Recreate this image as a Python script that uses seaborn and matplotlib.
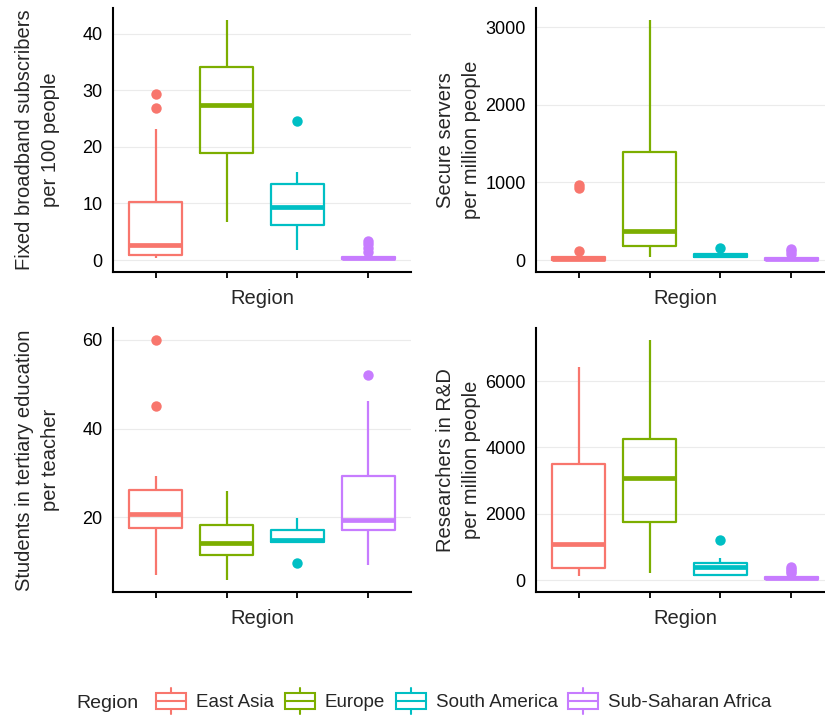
# Four-panel boxplot of ICT / education indicators by region
#
# - hollow boxes coloured by region, thick median, filled outlier dots
# - shared legend along the bottom

import numpy as np
import pandas as pd
import matplotlib
matplotlib.use("Agg")
import matplotlib.pyplot as plt
import seaborn as sns
from matplotlib.legend_handler import HandlerBase
from matplotlib.patches import Rectangle
from matplotlib.lines import Line2D

# ---------- Data (country values) ----------

regions = ["East Asia", "Europe", "South America", "Sub-Saharan Africa"]
region_colors = ["#F8766D", "#7CAE00", "#00BFC4", "#C77CFF"]

# Fixed broadband subscribers per 100 people
broadband_east_asia = [0.3, 0.5, 0.7, 0.9, 1.5, 2.0, 2.7, 4.0, 7.0, 10.2, 23.2, 26.8, 29.4]
broadband_europe = [6.7, 18.9, 27.4, 34.1, 42.4]
broadband_south_america = [1.8, 4.0, 6.2, 8.0, 9.3, 11.0, 13.4, 15.5, 24.6]
broadband_africa = [0.0, 0.05, 0.08, 0.1, 0.12, 0.15, 0.2, 0.22, 0.25, 0.28, 0.3,
                    0.35, 0.4, 0.45, 0.5, 0.55, 0.9, 1.5, 2.2, 2.8, 3.4]

# Secure servers per million people
servers_east_asia = [0, 1, 2, 3, 5, 8, 10, 12, 15, 20, 25, 30, 35, 60, 110, 930, 970]
servers_europe = [43, 181, 374, 1386, 3091]
servers_south_america = [20, 35, 45, 52, 60, 70, 80, 100, 150]
servers_africa = [0, 0.5, 1, 1.5, 2, 4, 6, 7, 8, 12, 16, 20, 25, 45, 80, 120, 140]

# Students in tertiary education per teacher
students_east_asia = [7.1, 12.0, 15.0, 17.7, 19.0, 20.0, 20.8, 23.0, 25.0, 26.1, 29.3, 45.2, 60.0]
students_europe = [5.9, 11.6, 14.3, 18.3, 25.9]
students_south_america = [9.8, 14.4, 14.4, 14.7, 15.0, 16.0, 17.2, 18.5, 19.8]
students_africa = [9.2, 14.0, 17.1, 18.5, 19.5, 24.0, 29.3, 46.3, 52.2]

# Researchers in R&D per million people
researchers_east_asia = [121, 373, 1089, 3499, 6423]
researchers_europe = [222, 1745, 3075, 4265, 7240]
researchers_south_america = [151, 151, 151, 300, 403, 450, 504, 676, 1210]
researchers_africa = [5, 10, 15, 20, 25, 30, 40, 45, 50, 55, 60, 70, 80, 85, 90,
                      100, 180, 230, 290, 350, 400]

panels = [
    ("Fixed broadband subscribers\nper 100 people",
     [broadband_east_asia, broadband_europe, broadband_south_america, broadband_africa],
     [0, 10, 20, 30, 40]),
    ("Secure servers\nper million people",
     [servers_east_asia, servers_europe, servers_south_america, servers_africa],
     [0, 1000, 2000, 3000]),
    ("Students in tertiary education\nper teacher",
     [students_east_asia, students_europe, students_south_america, students_africa],
     [20, 40, 60]),
    ("Researchers in R&D\nper million people",
     [researchers_east_asia, researchers_europe, researchers_south_america, researchers_africa],
     [0, 2000, 4000, 6000]),
]

# ---------- Style ----------

sns.set_style("white")
plt.rcParams["font.family"] = ["Liberation Sans", "DejaVu Sans"]

W, H = 825, 715
fig = plt.figure(figsize=(W / 100, H / 100), dpi=100)

# panel rectangles in pixels: left, top, width, height, ylabel pad
panel_px = [(113, 8, 298, 264, 16), (536, 8, 298, 264, 3),
            (113, 328, 298, 264, 16), (536, 328, 298, 264, 3)]

palette = dict(zip(regions, region_colors))

for (ylabel, groups, yticks), (px, py, pw, ph, ypad) in zip(panels, panel_px):
    ax = fig.add_axes([px / W, 1 - (py + ph) / H, pw / W, ph / H])

    df = pd.DataFrame({
        "Region": np.repeat(regions, [len(g) for g in groups]),
        "value": np.concatenate(groups),
    })

    sns.boxplot(
        data=df, x="Region", y="value", hue="Region",
        order=regions, hue_order=regions, palette=palette,
        fill=False, dodge=False, width=0.75, saturation=1,
        linewidth=1.6, fliersize=7.5, showcaps=False, legend=False,
        flierprops={"marker": "o", "markeredgewidth": 0},
        medianprops={"linewidth": 3.4},
        ax=ax,
    )

    # ggplot-style filled outlier dots, coloured by their region
    for ln in ax.lines:
        if ln.get_marker() == "o" and len(ln.get_xdata()):
            c = region_colors[int(round(float(np.mean(ln.get_xdata()))))]
            ln.set_markerfacecolor(c)
            ln.set_markeredgecolor(c)

    # axis limits with 5% padding like ggplot
    lo = min(min(g) for g in groups)
    hi = max(max(g) for g in groups)
    pad = 0.05 * (hi - lo)
    ax.set_ylim(lo - pad, hi + pad)
    ax.set_xlim(-0.6, 3.6)
    ax.set_yticks(yticks)

    ax.yaxis.grid(True, color="#EBEBEB", linewidth=0.8)
    ax.xaxis.grid(False)
    ax.set_axisbelow(True)
    sns.despine(ax=ax)
    for side in ["left", "bottom"]:
        ax.spines[side].set_color("black")
        ax.spines[side].set_linewidth(1.5)

    ax.tick_params(axis="both", length=4, width=1.3, color="black",
                   labelsize=13, labelcolor="black", direction="out")
    ax.tick_params(axis="x", labelbottom=False, bottom=True)
    ax.set_xlabel("Region", fontsize=14.5, labelpad=8)
    ax.set_ylabel(ylabel, fontsize=14.5, labelpad=ypad, linespacing=1.45)


# ---------- Legend ----------

class BoxKey(HandlerBase):
    """Draw a small boxplot glyph as legend key."""

    def create_artists(self, legend, orig_handle, xdescent, ydescent,
                       width, height, fontsize, trans):
        c = orig_handle.get_color()
        x0, y0 = -xdescent, -ydescent
        lw = 1.5
        box = Rectangle((x0, y0 + 0.17 * height), width, 0.66 * height,
                        facecolor="none", edgecolor=c, linewidth=lw, transform=trans)
        med = Line2D([x0, x0 + width], [y0 + 0.5 * height] * 2, color=c, lw=lw, transform=trans)
        wlo = Line2D([x0 + width / 2] * 2, [y0 - 0.05 * height, y0 + 0.17 * height],
                     color=c, lw=lw, transform=trans)
        whi = Line2D([x0 + width / 2] * 2, [y0 + 0.83 * height, y0 + 1.05 * height],
                     color=c, lw=lw, transform=trans)
        return [box, med, wlo, whi]


handles = [Line2D([], [], color=c) for c in region_colors]
fig.legend(
    handles, regions, loc="center left", ncol=4, frameon=False,
    bbox_to_anchor=(156 / W, 14 / H), borderaxespad=0, borderpad=0,
    handler_map={Line2D: BoxKey()}, fontsize=13.5,
    handlelength=1.6, handleheight=1.5, handletextpad=0.55, columnspacing=0.55,
)
fig.text(76 / W, 12 / H, "Region", fontsize=14, va="center", ha="left")

fig.savefig("out.png", dpi=100)
